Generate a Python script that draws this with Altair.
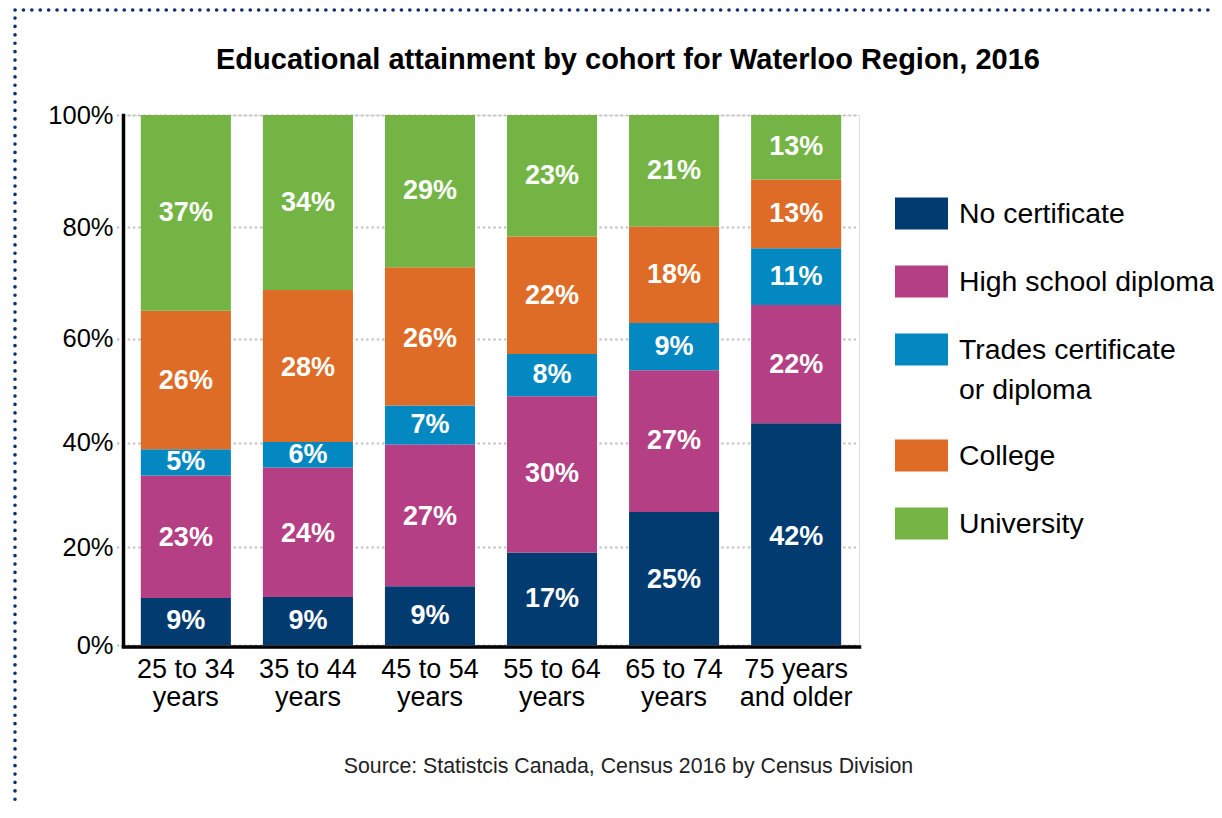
import altair as alt
import pandas as pd

# ---------------- data ----------------
cohorts = ["25 to 34 years", "35 to 44 years", "45 to 54 years",
           "55 to 64 years", "65 to 74 years", "75 years and older"]
levels = ["No certificate", "High school diploma", "Trades certificate or diploma",
          "College", "University"]
colors = ["#023b70", "#b53f84", "#0388c1", "#de6b26", "#73b444"]

# segment sizes as drawn (share of cohort, %)
no_certificate = [9.6, 9.8, 12.0, 18.9, 26.7, 43.7]
high_school = [24.1, 25.4, 27.6, 30.0, 27.2, 22.3]
trades = [5.0, 4.9, 7.5, 8.1, 8.9, 10.2]
college = [26.3, 28.6, 25.7, 21.3, 17.3, 12.3]
university = [35.0, 31.3, 27.2, 21.7, 19.9, 11.5]

# percentages printed on the segments
no_certificate_lbl = [9, 9, 9, 17, 25, 42]
high_school_lbl = [23, 24, 27, 30, 27, 22]
trades_lbl = [5, 6, 7, 8, 9, 11]
college_lbl = [26, 28, 26, 22, 18, 13]
university_lbl = [37, 34, 29, 23, 21, 13]

y_ticks = [0, 20, 40, 60, 80, 100]
chart_title = "Educational attainment by cohort for Waterloo Region, 2016"
source_note = "Source: Statistcis Canada, Census 2016 by Census Division"

series = [no_certificate, high_school, trades, college, university]
series_lbl = [no_certificate_lbl, high_school_lbl, trades_lbl, college_lbl, university_lbl]

rows = []
for j, lev in enumerate(levels):
    for i, c in enumerate(cohorts):
        rows.append({"cohort": c, "level": lev, "order": j,
                     "share": series[j][i], "label": f"{series_lbl[j][i]}%"})
df = pd.DataFrame(rows)

SANS = "Liberation Sans, Arial, sans-serif"

W, H = 736, 530

y_scale = alt.Scale(domain=y_ticks, range=[530, 432, 327.5, 223.5, 112, 0], nice=False)
x_scale = alt.Scale(domain=cohorts, paddingInner=0.262, paddingOuter=0.146)

x_axis = alt.Axis(
    title=source_note, titleFont=SANS, titleFontSize=21.3, titleFontWeight="normal",
    titleColor="#222222", titleX=505, titleY=126, titleAlign="center",
    titleBaseline="alphabetic",
    labelExpr="datum.label == '75 years and older' ? ['75 years', 'and older'] : [replace(datum.label, ' years', ''), 'years']",
    labelFont=SANS, labelFontSize=27, labelLineHeight=28, labelColor="black",
    labelPadding=10, labelAngle=0, labelBaseline="top", ticks=False,
    domainColor="black", domainWidth=3.5, domainCap="square", offset=1.5, grid=False,
)
y_axis = alt.Axis(
    values=y_ticks, labelExpr="datum.value + '%'", title=None,
    labelFont=SANS, labelFontSize=25.5, labelColor="black", labelPadding=2,
    domainColor="black", domainWidth=3.5, domainCap="square",
    tickSize=8, tickColor="#c8c8c8", tickWidth=2.7, tickDash=[0.1, 5.2], tickCap="round",
    grid=True, gridColor="#c8c8c8", gridWidth=2.7, gridDash=[0.1, 5.2], gridCap="round",
)
legend = alt.Legend(
    title=None, orient="none", legendX=772, legendY=72, direction="vertical",
    symbolType="M-1,-0.604H1V0.604H-1Z", symbolSize=2809, symbolStrokeWidth=0,
    symbolOpacity=1, labelFont=SANS, labelFontSize=28.4, labelColor="black",
    labelOffset=11, labelLimit=400, rowPadding=25, padding=0,
    labelExpr="datum.label == 'Trades certificate or diploma' ? ['Trades certificate', 'or diploma'] : datum.label",
)

base = alt.Chart(df).transform_stack(
    stack="share", groupby=["cohort"], as_=["lo", "hi"],
    sort=[alt.SortField("order", order="ascending")],
).transform_calculate(mid="(datum.lo + datum.hi) / 2")

bars = base.mark_bar(strokeWidth=0).encode(
    x=alt.X("cohort:N", sort=cohorts, scale=x_scale, axis=x_axis),
    y=alt.Y("lo:Q", scale=y_scale, axis=y_axis),
    y2="hi:Q",
    color=alt.Color("level:N", scale=alt.Scale(domain=levels, range=colors), legend=legend),
)

labels = base.mark_text(font=SANS, fontSize=27, fontWeight="bold", color="white",
                        baseline="middle", align="center").encode(
    x=alt.X("cohort:N", sort=cohorts, scale=x_scale),
    y=alt.Y("mid:Q", scale=y_scale),
    text="label:N",
)

frame_df = pd.DataFrame({"k": [0]})
border_top = alt.Chart(frame_df).mark_rule(
    color="#0d3270", strokeWidth=3.6, strokeDash=[0.1, 8.3], strokeCap="round"
).encode(x=alt.value(-108), x2=alt.value(1091), y=alt.value(-105))
border_left = alt.Chart(frame_df).mark_rule(
    color="#0d3270", strokeWidth=3.6, strokeDash=[0.1, 8.3], strokeCap="round"
).encode(x=alt.value(-108), y=alt.value(-97), y2=alt.value(690))

chart = alt.layer(border_top, border_left, bars, labels).properties(
    width=W, height=H,
    title=alt.TitleParams(text=chart_title, font=SANS, fontSize=29, fontWeight="bold",
                          color="black", anchor="middle", frame="group", dx=137, dy=90,
                          baseline="alphabetic", offset=0),
    autosize=alt.AutoSizeParams(type="none"),
    padding={"left": 115, "top": 107, "right": 355, "bottom": 158},
).configure_view(stroke=None).configure(
    background="white", style={"guide-label": {"lineHeight": 40}}
)

chart.save("out.html", embed_options={"renderer": "svg", "actions": False})
